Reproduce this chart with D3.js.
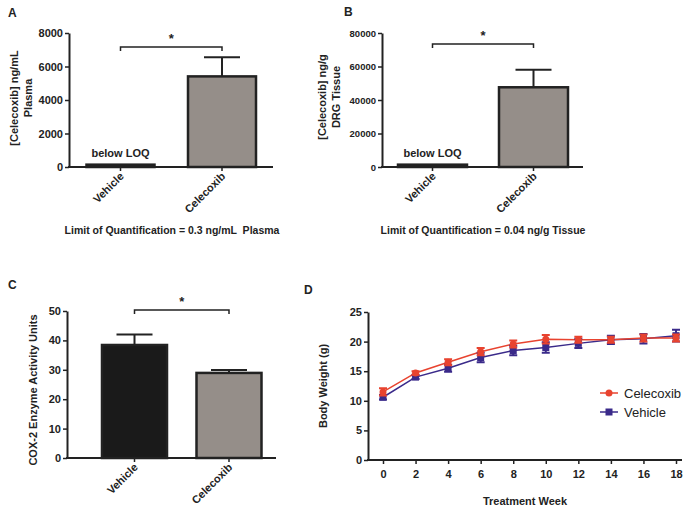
<!DOCTYPE html>
<html><head><meta charset="utf-8">
<script src="https://cdn.jsdelivr.net/npm/d3@7"></script>
<style>
body{margin:0;background:#fff;}
svg{display:block;font-family:"Liberation Sans",Arial,sans-serif;}
.tick text{font-weight:bold;font-size:11px;fill:#222;}
</style></head><body>
<svg id="c" width="700" height="513"></svg>
<script>
// ---- data ----
const barCategories = ["Vehicle", "Celecoxib"];
const plasmaMean = [80, 5350];
const plasmaErr = [0, 1200];
const tissueMean = [800, 47000];
const tissueErr = [0, 11000];
const coxMean = [38.1, 28.6];
const coxErr = [3.9, 1.3];
const barColors = ["#1a1a1a", "#958e89"];
const weeks = [0, 2, 4, 6, 8, 10, 12, 14, 16, 18];
const celecoxibWeight = [11.5, 14.7, 16.5, 18.3, 19.6, 20.4, 20.3, 20.3, 20.6, 20.6];
const celecoxibErr = [0.6, 0.3, 0.5, 0.6, 0.6, 0.7, 0.5, 0.5, 0.6, 0.6];
const vehicleWeight = [10.6, 14.0, 15.5, 17.3, 18.5, 19.0, 19.7, 20.3, 20.5, 21.0];
const vehicleErr = [0.4, 0.3, 0.6, 0.8, 0.8, 0.9, 0.8, 0.7, 0.8, 1.0];
const weightTicks = [0, 5, 10, 15, 20, 25];

const svg = d3.select("#c");
const ink = "#222";

function band(c1, c2, w) {
  const s = c2 - c1, p = 1 - w / s;
  return d3.scaleBand().domain(barCategories).range([c1 - s / 2, c2 + s / 2]).paddingInner(p).paddingOuter(p / 2);
}

function barPanel(o) {
  const g = svg.append("g");
  const x = band(o.c1, o.c2, o.bw);
  const y = d3.scaleLinear().domain([0, o.max]).range([o.y0, o.y1]);
  o.mean.forEach((m, i) => {
    const cx = x(barCategories[i]) + x.bandwidth() / 2;
    if (o.err[i] > 0) {
      g.append("line").attr("x1", cx).attr("x2", cx).attr("y1", y(m)).attr("y2", y(m + o.err[i]))
        .attr("stroke", ink).attr("stroke-width", 2);
      g.append("line").attr("x1", cx - o.cap / 2).attr("x2", cx + o.cap / 2)
        .attr("y1", y(m + o.err[i])).attr("y2", y(m + o.err[i])).attr("stroke", ink).attr("stroke-width", 2);
    }
    g.append("rect").attr("x", x(barCategories[i])).attr("width", x.bandwidth())
      .attr("y", y(m) - 1).attr("height", Math.max(y(0) - y(m) + 1, 1.5))
      .attr("fill", o.colors[i]).attr("stroke", ink).attr("stroke-width", 2.5);
  });
  const ya = g.append("g").attr("transform", `translate(${o.ax},0)`)
    .call(d3.axisLeft(y).tickValues(o.ticks).tickFormat(d3.format("d")).tickSize(4).tickSizeOuter(0).tickPadding(2));
  ya.select(".domain").attr("stroke", ink).attr("stroke-width", 2);
  ya.selectAll(".tick line").attr("stroke", ink).attr("stroke-width", 1.5);
  ya.selectAll(".tick text").style("font-size", o.tickFont + "px");
  const xa = g.append("g").attr("transform", `translate(0,${o.y0})`)
    .call(d3.axisBottom(x).tickSize(4).tickSizeOuter(0));
  xa.select(".domain").remove();
  xa.selectAll(".tick line").attr("stroke", ink).attr("stroke-width", 1.5);
  xa.selectAll(".tick text").attr("text-anchor", "end").attr("dy", null).attr("y", 0)
    .attr("transform", "translate(4,10) rotate(-45)");
  g.append("line").attr("x1", o.ax - 1).attr("x2", o.axEnd).attr("y1", o.y0).attr("y2", o.y0)
    .attr("stroke", ink).attr("stroke-width", 2);
  const b1 = x(barCategories[0]) + x.bandwidth() / 2, b2 = x(barCategories[1]) + x.bandwidth() / 2;
  g.append("path").attr("d", `M${b1},${o.brY + 4}V${o.brY}H${b2}V${o.brY + 4}`)
    .attr("fill", "none").attr("stroke", ink).attr("stroke-width", 1.5);
  g.append("text").attr("x", (b1 + b2) / 2).attr("y", o.brY - 4).attr("text-anchor", "middle")
    .attr("font-size", 13).attr("font-weight", "bold").attr("fill", ink).text("*");
  o.ylab.forEach((t, i) => {
    g.append("text").attr("transform", `translate(${o.ylabX + i * 14},${o.ylabY}) rotate(-90)`)
      .attr("text-anchor", "middle").attr("font-size", 11).attr("font-weight", "bold").attr("fill", ink).text(t);
  });
  if (o.loq) {
    g.append("text").attr("x", b1).attr("y", o.y0 - 10).attr("text-anchor", "middle")
      .attr("font-size", 11).attr("font-weight", "bold").attr("fill", ink).text("below LOQ");
  }
  if (o.foot) {
    g.append("text").attr("x", o.footX).attr("y", 234).attr("text-anchor", "middle")
      .attr("font-size", 10.5).attr("font-weight", "bold").attr("fill", ink).attr("xml:space", "preserve").text(o.foot);
  }
  g.append("text").attr("x", o.lx).attr("y", o.ly).attr("font-size", 12).attr("font-weight", "bold")
    .attr("fill", ink).text(o.label);
}

barPanel({c1: 120.5, c2: 222, bw: 68, max: 8000, y0: 167, y1: 33, ax: 69, axEnd: 273,
  mean: plasmaMean, err: plasmaErr, colors: barColors, cap: 36, tickFont: 11,
  ticks: [0, 2000, 4000, 6000, 8000], brY: 47, ylab: ["[Celecoxib] ng/mL", "Plasma"], ylabX: 18, ylabY: 98,
  loq: true, foot: "Limit of Quantification = 0.3 ng/mL  Plasma", footX: 172, label: "A", lx: 8, ly: 17});
barPanel({c1: 432.5, c2: 533.5, bw: 69, max: 80000, y0: 167, y1: 33, ax: 382, axEnd: 583,
  mean: tissueMean, err: tissueErr, colors: barColors, cap: 36, tickFont: 9.5,
  ticks: [0, 20000, 40000, 60000, 80000], brY: 44, ylab: ["[Celecoxib] ng/g", "DRG Tissue"], ylabX: 326, ylabY: 97,
  loq: true, foot: "Limit of Quantification = 0.04 ng/g Tissue", footX: 483, label: "B", lx: 344, ly: 16});
barPanel({c1: 134.5, c2: 229, bw: 65, max: 50, y0: 458, y1: 311, ax: 67, axEnd: 276,
  mean: coxMean, err: coxErr, colors: barColors, cap: 36, tickFont: 11,
  ticks: [0, 10, 20, 30, 40, 50], brY: 310, ylab: ["COX-2 Enzyme Activity Units"], ylabX: 37, ylabY: 390,
  loq: false, label: "C", lx: 8, ly: 289});

// ---- panel D ----
(function () {
  const g = svg.append("g");
  const x = d3.scaleLinear().domain([0, 18]).range([383, 676]);
  const y = d3.scaleLinear().domain([0, 25]).range([460, 312]);
  const ya = g.append("g").attr("transform", "translate(368,0)")
    .call(d3.axisLeft(y).tickValues(weightTicks).tickSize(4).tickSizeOuter(0).tickPadding(2));
  ya.select(".domain").attr("stroke", ink).attr("stroke-width", 2);
  ya.selectAll(".tick line").attr("stroke", ink).attr("stroke-width", 1.5);
  const xa = g.append("g").attr("transform", "translate(0,460)")
    .call(d3.axisBottom(x).tickValues(weeks).tickSize(4).tickSizeOuter(0).tickPadding(6));
  xa.select(".domain").remove();
  xa.selectAll(".tick line").attr("stroke", ink).attr("stroke-width", 1.5);
  g.append("line").attr("x1", 367).attr("x2", 682).attr("y1", 460).attr("y2", 460)
    .attr("stroke", ink).attr("stroke-width", 2);

  const series = [
    {name: "Vehicle", vals: vehicleWeight, err: vehicleErr, color: "#3a2a8a", shape: "square"},
    {name: "Celecoxib", vals: celecoxibWeight, err: celecoxibErr, color: "#e8432f", shape: "circle"}
  ];
  const line = d3.line().x((d, i) => x(weeks[i])).y(d => y(d));
  series.forEach(s => {
    g.append("path").attr("d", line(s.vals)).attr("fill", "none").attr("stroke", s.color).attr("stroke-width", 1.5);
  });
  series.forEach(s => {
    s.vals.forEach((v, i) => {
      const cx = x(weeks[i]);
      g.append("path").attr("d", `M${cx - 4},${y(v + s.err[i])}H${cx + 4}M${cx},${y(v + s.err[i])}V${y(v - s.err[i])}M${cx - 4},${y(v - s.err[i])}H${cx + 4}`)
        .attr("stroke", s.color).attr("stroke-width", 2).attr("fill", "none");
      if (s.shape === "circle") g.append("circle").attr("cx", cx).attr("cy", y(v)).attr("r", 3.5).attr("fill", s.color);
      else g.append("rect").attr("x", cx - 3.5).attr("y", y(v) - 3.5).attr("width", 7).attr("height", 7).attr("fill", s.color);
    });
  });
  const leg = [series[1], series[0]];
  leg.forEach((s, i) => {
    const ly = 393 + i * 19;
    g.append("line").attr("x1", 600).attr("x2", 618).attr("y1", ly).attr("y2", ly).attr("stroke", s.color).attr("stroke-width", 1.5);
    if (s.shape === "circle") g.append("circle").attr("cx", 609).attr("cy", ly).attr("r", 3.5).attr("fill", s.color);
    else g.append("rect").attr("x", 605.5).attr("y", ly - 3.5).attr("width", 7).attr("height", 7).attr("fill", s.color);
    g.append("text").attr("x", 624).attr("y", ly + 4.5).attr("font-size", 13).attr("fill", ink).text(s.name);
  });
  g.append("text").attr("transform", "translate(327,386) rotate(-90)").attr("text-anchor", "middle")
    .attr("font-size", 11).attr("font-weight", "bold").attr("fill", ink).text("Body Weight (g)");
  g.append("text").attr("x", 525).attr("y", 505).attr("text-anchor", "middle")
    .attr("font-size", 11).attr("font-weight", "bold").attr("fill", ink).text("Treatment Week");
  g.append("text").attr("x", 304).attr("y", 294).attr("font-size", 12).attr("font-weight", "bold").attr("fill", ink).text("D");
})();
</script></body></html>
